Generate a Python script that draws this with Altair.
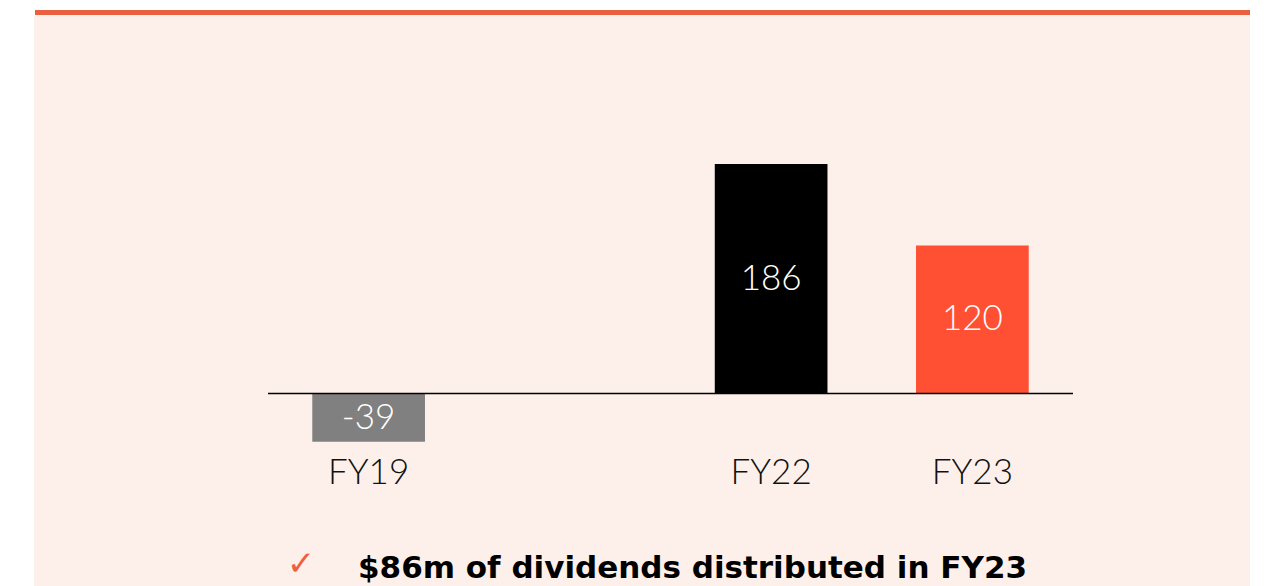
import altair as alt
import pandas as pd

categories = ["FY19", " ", "FY22", "FY23"]
values = [-39, None, 186, 120]
bar_colors = ["#808080", "#808080", "#000000", "#FF5034"]
note_text = "$86m of dividends distributed in FY23"
check_mark = "✓"

df = pd.DataFrame({"cat": categories, "value": values})

W, H = 1251, 578
FONT = "Lato"

x_scale = alt.Scale(domain=categories, range=[260, 1065], paddingInner=0.44, paddingOuter=0.22)
y_scale = alt.Scale(domain=[-100, 300], range=[508.9, 15.3], zero=False, nice=False)
color_scale = alt.Scale(domain=categories, range=bar_colors)

base = alt.Chart(df)

panel = alt.Chart(pd.DataFrame({"a": [0]})).mark_rect(color="#FDF0EB").encode(
    x=alt.value(26), x2=alt.value(1242), y=alt.value(7), y2=alt.value(H)
)
topline = alt.Chart(pd.DataFrame({"a": [0]})).mark_rect(color="#E8603F").encode(
    x=alt.value(27), x2=alt.value(1242), y=alt.value(2), y2=alt.value(7)
)

bars = base.transform_filter("isValid(datum.value)").mark_bar().encode(
    x=alt.X("cat:N", scale=x_scale, sort=categories, axis=None),
    y=alt.Y("value:Q", scale=y_scale, axis=None),
    y2=alt.datum(0),
    color=alt.Color("cat:N", scale=color_scale, legend=None),
)

zero_rule = alt.Chart(pd.DataFrame({"z": [0]})).mark_rule(color="#000000", strokeWidth=1.6).encode(
    y=alt.Y("z:Q", scale=y_scale, axis=None),
    x=alt.value(260), x2=alt.value(1065),
)

value_labels = base.transform_filter("isValid(datum.value)").transform_calculate(
    mid="datum.value / 2", label="'' + datum.value"
).mark_text(color="white", font=FONT, fontSize=35, fontWeight=300, baseline="middle").encode(
    x=alt.X("cat:N", scale=x_scale, sort=categories, axis=None),
    y=alt.Y("mid:Q", scale=y_scale, axis=None),
    text="label:N",
)

cat_labels = base.mark_text(color="#111111", font=FONT, fontSize=35, fontWeight=300, baseline="middle").encode(
    x=alt.X("cat:N", scale=x_scale, sort=categories, axis=None),
    y=alt.value(465),
    text="cat:N",
)

check = alt.Chart(pd.DataFrame({"t": [check_mark]})).mark_text(
    color="#F0603E", font="DejaVu Sans", fontSize=34, baseline="middle", align="center"
).encode(x=alt.value(293), y=alt.value(557), text="t:N")

note = alt.Chart(pd.DataFrame({"t": [note_text]})).mark_text(
    color="#000000", font="DejaVu Sans", fontSize=31, fontWeight="bold", baseline="middle", align="left"
).encode(x=alt.value(350), y=alt.value(561), text="t:N")

chart = alt.layer(panel, topline, bars, zero_rule, value_labels, cat_labels, check, note).properties(
    width=W, height=H, autosize=alt.AutoSizeParams(type="none"), padding=0, background="white"
).configure_view(stroke=None)

chart.save("out.html", embed_options={"renderer": "svg", "actions": False})
